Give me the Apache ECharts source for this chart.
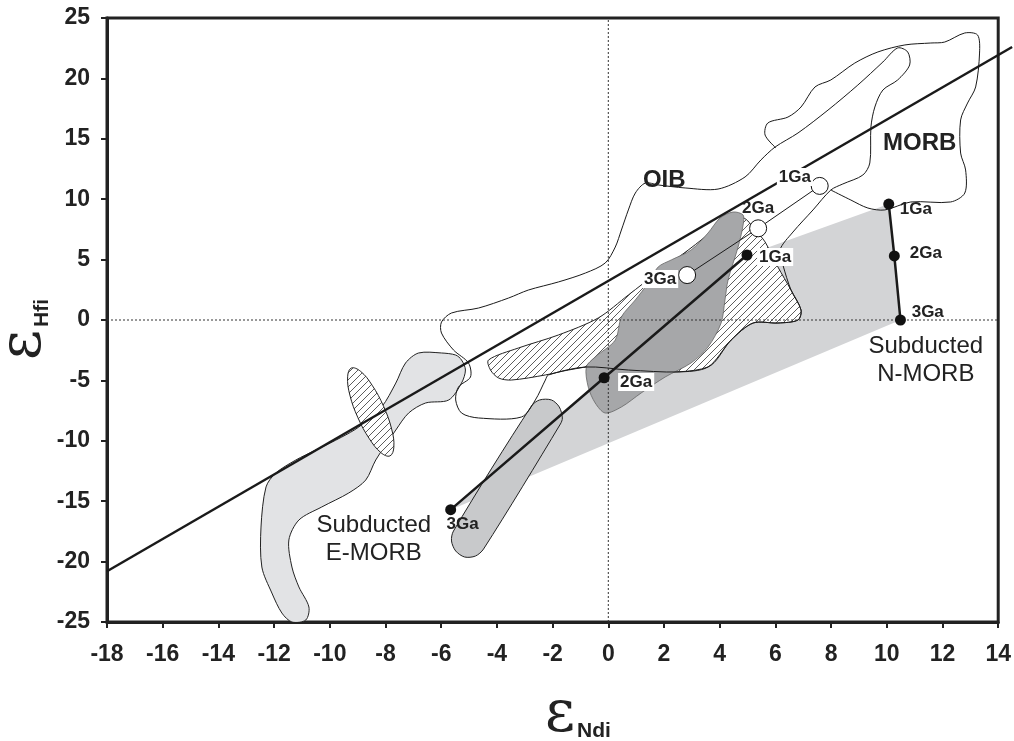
<!DOCTYPE html>
<html><head><meta charset="utf-8">
<script src="https://cdn.jsdelivr.net/npm/echarts@6/dist/echarts.min.js"></script>
<style>html,body{margin:0;padding:0;background:#fff}#c{width:1014px;height:741px}</style>
</head><body><div id="c"></div>
<script>
// ---------- data (epsilon units) ----------
const terrestrialArray = [[-18, -20.8], [14.5, 22.6]];
const subductedField = [[-5.66,-15.7],[-0.15,-4.78],[4.98,5.38],[10.07,9.6],[10.27,5.3],[10.49,0]];
const emorbPath = [[-5.66,-15.7],[-0.15,-4.78],[4.98,5.38]];
const nmorbPath = [[10.07,9.6],[10.27,5.3],[10.49,0]];
const openPath = [[2.83,3.72],[5.38,7.59],[7.59,11.1]];
const darkField = [[4.84,8.69],[4.48,8.94],[4.01,8.44],[3.58,7.2],[2.97,5.79],[2.26,4.97],[1.79,4.39],[1.43,3.06],[0.97,1.66],[0.47,0.25],[0.25,-1.66],[-0.47,-3.06],[-0.79,-3.89],[-0.72,-5.55],[-0.47,-6.87],[-0.11,-7.7],[0.47,-7.2],[1.18,-6.04],[2.04,-4.72],[2.97,-3.56],[3.58,-2.24],[4.05,-0.25],[4.19,1.66],[4.3,3.31],[4.66,6.04],[4.84,7.86]];
const hatchField = [[-4.3,-3.31],[-3.23,-2.32],[-1.79,-1.24],[-0.36,0.17],[0.72,2.07],[1.79,3.97],[2.87,5.79],[3.94,7.62],[4.84,8.44],[5.27,7.45],[5.63,6.46],[6.09,4.39],[6.56,2.48],[6.92,0.83],[6.81,0],[6.09,-0.25],[5.2,-0.25],[4.41,-1.66],[3.58,-3.89],[1.43,-4.3],[-0.36,-3.81],[-1.43,-4.14],[-2.26,-4.55],[-3.48,-4.97],[-3.94,-4.8],[-4.23,-4.14]];
const hatchEllipse = [[-7.84,-11.25],[-7.7,-10.53],[-7.78,-9.02],[-8.07,-7.14],[-8.48,-5.4],[-8.9,-4.24],[-9.23,-3.98],[-9.36,-4.7],[-9.28,-6.21],[-8.99,-8.09],[-8.58,-9.83],[-8.16,-10.99]];
const bandField = [[-5.27,-3.31],[-5.13,-4.14],[-5.27,-5.22],[-5.73,-6.62],[-6.56,-6.87],[-7.17,-7.7],[-7.63,-9.11],[-8.35,-11.59],[-8.71,-13.25],[-9.32,-14.32],[-10.29,-15.48],[-11.11,-16.56],[-11.47,-18.21],[-11.36,-20.45],[-11.11,-22.1],[-10.75,-23.76],[-10.86,-24.83],[-11.36,-25.0],[-11.72,-24.26],[-12.08,-22.6],[-12.44,-20.45],[-12.47,-17.14],[-12.29,-13.82],[-11.94,-12.67],[-11.22,-11.59],[-10.5,-10.76],[-9.57,-9.69],[-8.96,-8.86],[-8.14,-7.2],[-7.63,-5.22],[-7.28,-3.56],[-6.81,-2.73],[-5.99,-2.73],[-5.48,-2.9]];
const capsuleField = [[-5.56,-17.47],[-2.76,-7.12],[-2.47,-6.62],[-2.04,-6.62],[-1.76,-7.2],[-1.65,-8.11],[-1.72,-8.61],[-4.48,-18.96],[-4.77,-19.54],[-5.16,-19.62],[-5.48,-19.12],[-5.63,-18.29]];
const oibOutline = [[-5.99,-0.17],[-5.63,0.58],[-4.66,0.99],[-3.58,1.82],[-2.87,2.48],[-1.79,3.15],[-0.82,3.89],[-0.11,4.72],[0.25,6.04],[0.47,7.45],[0.72,9.11],[0.97,10.51],[1.33,11.34],[1.79,11.18],[2.76,10.93],[3.94,10.84],[4.91,11.84],[5.48,13.25],[5.99,14.32],[6.81,15.48],[7.89,17.38],[8.96,19.45],[9.86,21.36],[10.39,22.52],[10.75,22.19],[10.82,21.11],[10.39,19.87],[9.86,19.04],[9.57,17.63],[9.43,15.98],[9.39,13.0],[9.14,12.0],[8.42,11.26],[7.99,10.76],[7.35,9.11],[6.63,7.28],[6.16,5.79],[6.27,4.55],[6.56,2.48],[6.92,0.83],[6.81,0],[6.09,-0.25],[5.2,-0.25],[4.41,-1.66],[3.58,-3.89],[2.51,-4.3],[0.72,-4.14],[-0.82,-3.89],[-2.15,-4.55],[-2.26,-4.97],[-2.62,-6.62],[-3.12,-8.03],[-4.66,-8.11],[-5.27,-7.7],[-5.48,-6.62],[-5.38,-5.55],[-4.95,-4.72],[-5.02,-3.56],[-5.56,-2.48],[-5.99,-1.08]];
const morbOutline = [[6.02,14.24],[5.63,15.31],[5.73,16.31],[6.45,16.8],[6.92,17.63],[7.42,19.29],[7.99,19.87],[8.85,21.27],[9.68,22.19],[10.65,22.77],[11.58,22.93],[12.08,23.01],[12.8,23.76],[13.26,23.59],[13.33,22.1],[13.19,19.29],[12.9,17.96],[12.65,16.56],[12.65,13.82],[12.83,12.42],[12.8,10.51],[12.29,9.77],[10.86,9.77],[9.93,9.11],[9.32,9.27],[8.71,9.93],[7.99,10.76]];
const zeroV = [[0,-25],[0,25]];
const zeroH = [[-18,0],[14,0]];
// labels
const fieldText = ['OIB','MORB','Subducted\nN-MORB','Subducted\nE-MORB'];
const fieldX = [2.01, 11.18, 11.40, -8.42];
const fieldY = [11.59, 14.65, -3.31, -18.13];
const gaText = ['1Ga','2Ga','3Ga','1Ga','2Ga','3Ga','1Ga','2Ga','3Ga'];
const gaX = [6.70, 5.38, 1.86, 5.99, 1.00, -5.23, 11.04, 11.40, 11.47];
const gaY = [11.84, 9.27, 3.39, 5.22, -5.13, -16.89, 9.19, 5.55, 0.66];
const gaBox = [true, false, true, true, true, false, false, false, false];

// ---------- drawing ----------
function makeHatch() {
  const s = 7, c = document.createElement('canvas');
  c.width = s; c.height = s;
  const g = c.getContext('2d');
  g.fillStyle = '#fff'; g.fillRect(0, 0, s, s);
  g.strokeStyle = '#333'; g.lineWidth = 0.8;
  g.beginPath();
  g.moveTo(-1, s + 1); g.lineTo(s + 1, -1);
  g.moveTo(-1, 1); g.lineTo(1, -1);
  g.moveTo(s - 1, s + 1); g.lineTo(s + 1, s - 1);
  g.stroke();
  return c;
}
const hatch = { image: makeHatch(), repeat: 'repeat' };

function poly(pts, style, z, smooth, closed, clip) {
  return {
    type: 'custom', coordinateSystem: 'cartesian2d', z: z, silent: true, clip: clip !== false,
    data: [[pts[0][0], pts[0][1]]],
    renderItem: function (params, api) {
      return {
        type: closed === false ? 'polyline' : 'polygon',
        shape: { points: pts.map(p => api.coord(p)), smooth: smooth || 0 },
        style: style
      };
    }
  };
}
function lineS(pts, width, type, z, extra) {
  return Object.assign({
    type: 'line', data: pts, z: z, silent: true, symbol: 'none', clip: false,
    lineStyle: { color: '#1a1a1a', width: width, type: type || 'solid' }, animation: false
  }, extra || {});
}

const FONT = 'Liberation Sans';
const chart = echarts.init(document.getElementById('c'), null, { renderer: 'canvas' });
chart.setOption({
  animation: false,
  backgroundColor: '#fff',
  grid: { left: 107, right: 14, top: 18, bottom: 119, show: true, borderColor: '#222', borderWidth: 3, backgroundColor: 'transparent' },
  xAxis: {
    type: 'value', min: -18, max: 14, interval: 2,
    axisLine: { show: true, onZero: false, lineStyle: { color: '#222', width: 3 } },
    axisTick: { show: true, length: 6, lineStyle: { color: '#222', width: 2 } },
    axisLabel: { fontSize: 23, fontWeight: 'bold', color: '#222', fontFamily: FONT, margin: 21 },
    splitLine: { show: false }
  },
  yAxis: {
    type: 'value', min: -25, max: 25, interval: 5,
    axisLine: { show: true, onZero: false, lineStyle: { color: '#222', width: 3 } },
    axisTick: { show: true, length: 6, lineStyle: { color: '#222', width: 2 } },
    axisLabel: { fontSize: 23, fontWeight: 'bold', color: '#222', fontFamily: FONT, margin: 17 },
    splitLine: { show: false }
  },
  graphic: [
    { type: 'text', x: 560, y: 716, z: 100, style: { text: 'ε', fontSize: 58, fontFamily: 'DejaVu Serif', fill: '#222', align: 'center', verticalAlign: 'middle' } },
    { type: 'text', x: 577, y: 731, z: 100, style: { text: 'Ndi', fontSize: 21, fontWeight: 'bold', fontFamily: FONT, fill: '#222', align: 'left', verticalAlign: 'middle' } },
    { type: 'text', x: 25, y: 345, rotation: Math.PI / 2, z: 100, style: { text: 'ε', fontSize: 58, fontFamily: 'DejaVu Serif', fill: '#222', align: 'center', verticalAlign: 'middle' } },
    { type: 'text', x: 42, y: 313, rotation: Math.PI / 2, z: 100, style: { text: 'Hfi', fontSize: 21, fontWeight: 'bold', fontFamily: FONT, fill: '#222', align: 'center', verticalAlign: 'middle' } }
  ],
  series: [
    poly(subductedField, { fill: '#d3d4d6' }, 1, 0),
    poly(bandField, { fill: '#e2e3e5', stroke: '#222', lineWidth: 1 }, 2, 0.3),
    poly(capsuleField, { fill: '#c8c9cb', stroke: '#222', lineWidth: 1 }, 2, 0.3),
    poly(hatchField, { fill: hatch, stroke: '#222', lineWidth: 1 }, 3, 0.3),
    poly(darkField, { fill: '#a6a7a9', stroke: '#666', lineWidth: 0.8 }, 4, 0.3),
    poly(hatchEllipse, { fill: hatch, stroke: '#222', lineWidth: 1 }, 4, 0.4),
    poly(oibOutline, { fill: 'none', stroke: '#1a1a1a', lineWidth: 1 }, 5, 0.3),
    poly(morbOutline, { fill: 'none', stroke: '#1a1a1a', lineWidth: 1 }, 5, 0.3, false),
    lineS(zeroV, 1, 'dotted', 5, { clip: true, lineStyle: { color: '#333', width: 1, type: [2, 2] } }),
    lineS(zeroH, 1, 'dotted', 5, { clip: true, lineStyle: { color: '#333', width: 1, type: [2, 2] } }),
    poly(terrestrialArray, { fill: 'none', stroke: '#1a1a1a', lineWidth: 2.5 }, 6, 0, false, false),
    lineS(emorbPath, 2.5, 'solid', 7, { symbol: 'circle', symbolSize: 11, itemStyle: { color: '#111' } }),
    lineS(nmorbPath, 2.5, 'solid', 7, { symbol: 'circle', symbolSize: 11, itemStyle: { color: '#111' } }),
    lineS(openPath, 1, 'solid', 7, { symbol: 'circle', symbolSize: 17, itemStyle: { color: '#fff', borderColor: '#111', borderWidth: 1 } }),
    {
      type: 'custom', coordinateSystem: 'cartesian2d', z: 9, silent: true, clip: false,
      data: fieldX.map((x, i) => [x, fieldY[i], i]),
      renderItem: function (params, api) {
        const i = params.dataIndex, p = api.coord([api.value(0), api.value(1)]);
        const bold = i < 2;
        return { type: 'text', x: p[0], y: p[1], style: {
          text: fieldText[i], align: 'center', verticalAlign: 'middle',
          fontSize: 24, fontWeight: bold ? 'bold' : 'normal', fontFamily: FONT,
          fill: '#222', lineHeight: 28 } };
      }
    },
    {
      type: 'custom', coordinateSystem: 'cartesian2d', z: 9, silent: true, clip: false,
      data: gaX.map((x, i) => [x, gaY[i], i]),
      renderItem: function (params, api) {
        const i = params.dataIndex, p = api.coord([api.value(0), api.value(1)]);
        const st = { text: gaText[i], align: 'center', verticalAlign: 'middle',
          fontSize: 17, fontWeight: 'bold', fontFamily: FONT, fill: '#222' };
        if (gaBox[i]) { st.backgroundColor = '#fff'; st.padding = [1, 2, 0, 2]; }
        return { type: 'text', x: p[0], y: p[1], style: st };
      }
    }
  ]
});
</script></body></html>
